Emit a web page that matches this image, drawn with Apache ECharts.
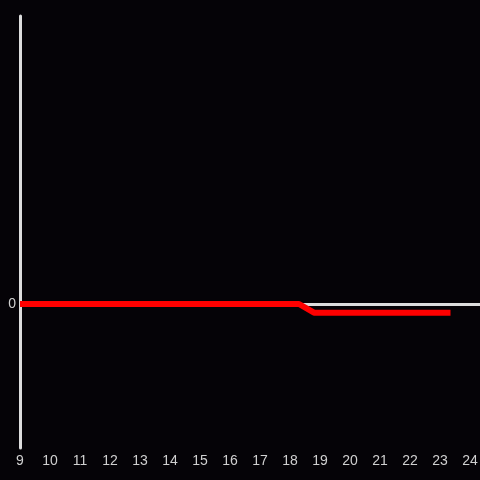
<!DOCTYPE html>
<html>
<head>
<meta charset="utf-8">
<script src="https://cdn.jsdelivr.net/npm/echarts@6/dist/echarts.min.js"></script>
<style>
  html, body { margin: 0; padding: 0; background: #050307; }
  #chart { width: 480px; height: 480px; }
</style>
</head>
<body>
<div id="chart"></div>
<script>
// hours along the day and the level
const hours = [9, 18.3, 18.8, 23.35]
const levels = [0, 0, -0.06, -0.06]

const chart = echarts.init(document.getElementById('chart'))

chart.setOption({
  backgroundColor: '#050307',
  animation: false,
  grid: { left: 20, right: 0, top: 16, bottom: 32, containLabel: false, outerBoundsMode: 'none' },
  xAxis: {
    type: 'value',
    min: 9,
    max: 24.333,
    interval: 1,
    axisLine: { show: false, onZero: false },
    axisTick: { show: false },
    splitLine: { show: false },
    axisLabel: {
      color: '#d0d0d0',
      fontSize: 14,
      margin: 6,
      formatter: v => (Number.isInteger(v) ? String(v) : '')
    }
  },
  yAxis: {
    type: 'value',
    min: -1,
    max: 2,
    interval: 1,
    axisLine: { show: true, lineStyle: { color: '#dddddd', width: 3 } },
    axisTick: { show: false },
    splitLine: { show: false },
    axisLabel: {
      color: '#d0d0d0',
      fontSize: 14,
      margin: 4,
      formatter: v => (v === 0 ? '0' : '')
    }
  },
  series: [
    {
      type: 'line',
      data: hours.map((h, i) => [h, levels[i]]),
      showSymbol: false,
      lineStyle: { color: '#ff0000', width: 6 },
      z: 3,
      markLine: {
        silent: true,
        symbol: 'none',
        label: { show: false },
        lineStyle: { color: '#dddddd', width: 3, type: 'solid' },
        data: [{ yAxis: 0 }],
        z: 1
      }
    }
  ]
})
</script>
</body>
</html>
